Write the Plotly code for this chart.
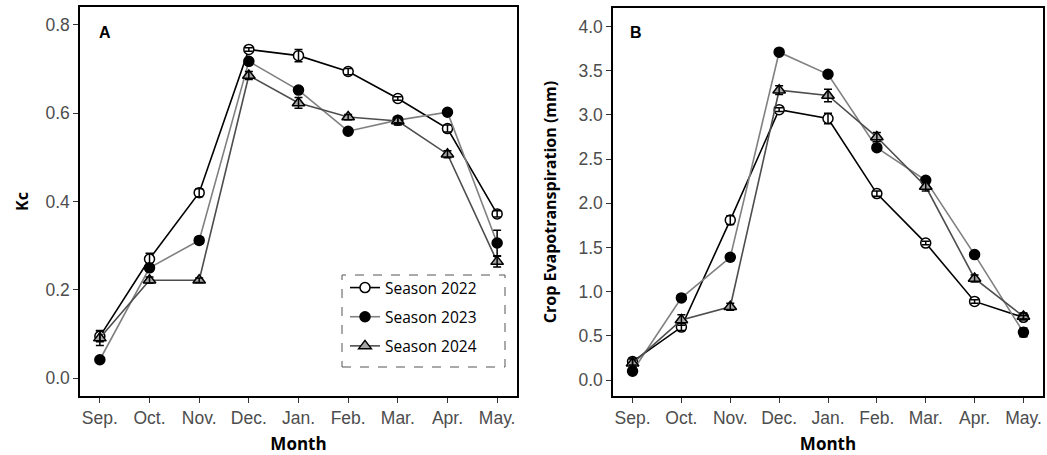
import plotly.graph_objects as go

# Month axis
months = ["Sep.", "Oct.", "Nov.", "Dec.", "Jan.", "Feb.", "Mar.", "Apr.", "May."]

# Crop coefficient (Kc) per season
kc_2022 = [0.095, 0.270, 0.420, 0.744, 0.730, 0.694, 0.633, 0.565, 0.372]
kc_2023 = [0.042, 0.250, 0.312, 0.717, 0.652, 0.559, 0.584, 0.602, 0.306]
kc_2024 = [0.091, 0.222, 0.222, 0.685, 0.623, 0.591, 0.582, 0.507, 0.264]
kc_2022_err = [0.012, 0.013, 0.009, 0.004, 0.014, 0.007, 0.004, 0.008, 0.007]
kc_2023_err = [0.003, 0.006, 0.008, 0.005, 0.005, 0.004, 0.006, 0.004, 0.029]
kc_2024_err = [0.017, 0.007, 0.005, 0.009, 0.012, 0.006, 0.009, 0.008, 0.012]

# Crop evapotranspiration (mm) per season
et_2022 = [0.21, 0.60, 1.81, 3.06, 2.96, 2.11, 1.55, 0.89, 0.71]
et_2023 = [0.10, 0.93, 1.39, 3.71, 3.46, 2.63, 2.26, 1.42, 0.54]
et_2024 = [0.19, 0.68, 0.83, 3.28, 3.22, 2.75, 2.19, 1.15, 0.72]
et_2022_err = [0.04, 0.04, 0.05, 0.02, 0.06, 0.03, 0.02, 0.02, 0.02]
et_2023_err = [0.03, 0.02, 0.04, 0.02, 0.02, 0.03, 0.02, 0.02, 0.05]
et_2024_err = [0.05, 0.06, 0.04, 0.05, 0.07, 0.05, 0.05, 0.04, 0.04]

seasons = ["Season 2022", "Season 2023", "Season 2024"]

styles = [
    dict(line="#000000", symbol="circle", fill="#ffffff", size=10),
    dict(line="#808080", symbol="circle", fill="#000000", size=10),
    dict(line="#4d4d4d", symbol="triangle-up", fill="#a6a6a6", size=11),
]

x_idx = list(range(len(months)))

fig = go.Figure()


def add_series(values, style, name, xaxis, yaxis, show_legend):
    fig.add_trace(go.Scatter(
        x=x_idx, y=values, name=name, mode="lines+markers",
        xaxis=xaxis, yaxis=yaxis, showlegend=show_legend,
        legendgroup=name,
        line=dict(color=style["line"], width=1.6),
        marker=dict(symbol=style["symbol"], size=style["size"], color=style["fill"],
                    line=dict(color="#000000", width=1.5)),
    ))


def add_errors(values, errors, xaxis, yaxis):
    # error bars drawn above the markers
    fig.add_trace(go.Scatter(
        x=x_idx, y=values, mode="markers", xaxis=xaxis, yaxis=yaxis,
        showlegend=False, hoverinfo="skip",
        marker=dict(size=1, color="rgba(0,0,0,0)"),
        error_y=dict(type="data", array=errors, visible=True, color="#000000",
                     thickness=1.5, width=4),
    ))


kc_sets = [(kc_2022, kc_2022_err), (kc_2023, kc_2023_err), (kc_2024, kc_2024_err)]
et_sets = [(et_2022, et_2022_err), (et_2023, et_2023_err), (et_2024, et_2024_err)]

for (vals, errs), st, nm in zip(kc_sets, styles, seasons):
    add_series(vals, st, nm, "x", "y", True)
for (vals, errs), st, nm in zip(et_sets, styles, seasons):
    add_series(vals, st, nm, "x2", "y2", False)
for vals, errs in kc_sets:
    add_errors(vals, errs, "x", "y")
for vals, errs in et_sets:
    add_errors(vals, errs, "x2", "y2")

W, H = 1047, 455


def px_x(p):
    return p / W


def px_y(p):
    return 1 - p / H


tick_font = dict(family="Liberation Sans, Arial, sans-serif", size=17.5, color="#4d4d4d")
title_font = dict(family="Open Sans, sans-serif", size=16, color="#000000")

axis_common = dict(
    showline=True, linecolor="#000000", linewidth=1.5, mirror=True,
    ticks="outside", ticklen=5, tickwidth=1.2, tickcolor="#333333",
    showgrid=False, zeroline=False, tickfont=tick_font,
)

xaxis_common = dict(
    axis_common, tickmode="array", tickvals=x_idx, ticktext=months,
    range=[-0.4, 8.4],
    title=dict(text="<b>Month</b>", font=dict(title_font, size=17), standoff=11),
)

fig.update_layout(
    width=W, height=H,
    margin=dict(l=0, r=0, t=0, b=0),
    paper_bgcolor="#ffffff", plot_bgcolor="#ffffff",
    xaxis=dict(xaxis_common, domain=[px_x(80), px_x(517)], anchor="y"),
    yaxis=dict(axis_common, domain=[px_y(396), px_y(7)], anchor="x",
               range=[-0.04, 0.84], tickvals=[0, 0.2, 0.4, 0.6, 0.8],
               ticktext=["0.0", "0.2", "0.4", "0.6", "0.8"],
               title=dict(text="<b>Kc</b>", font=title_font, standoff=13)),
    xaxis2=dict(xaxis_common, domain=[px_x(613), px_x(1043)], anchor="y2"),
    yaxis2=dict(axis_common, domain=[px_y(396), px_y(8)], anchor="x2",
                range=[-0.18, 4.21], tickvals=[0, 0.5, 1, 1.5, 2, 2.5, 3, 3.5, 4],
                ticktext=["0.0", "0.5", "1.0", "1.5", "2.0", "2.5", "3.0", "3.5", "4.0"],
                title=dict(text="<b>Crop Evapotranspiration (mm)</b>", font=title_font,
                           standoff=18)),
    legend=dict(
        x=px_x(345), y=px_y(271), xanchor="left", yanchor="top",
        bgcolor="rgba(0,0,0,0)", borderwidth=0,
        font=dict(family="Open Sans, sans-serif", size=15.5, color="#000000"),
        tracegroupgap=6, itemwidth=30,
    ),
    shapes=[dict(
        type="rect", xref="paper", yref="paper",
        x0=px_x(342), x1=px_x(505), y0=px_y(367), y1=px_y(275),
        line=dict(color="#555555", width=1, dash="dash"), fillcolor="rgba(0,0,0,0)",
    )],
    annotations=[
        dict(text="<b>A</b>", xref="paper", yref="paper", x=px_x(97), y=px_y(33),
             xanchor="left", yanchor="middle", showarrow=False,
             font=dict(family="Liberation Sans, Arial, sans-serif", size=16, color="#000000")),
        dict(text="<b>B</b>", xref="paper", yref="paper", x=px_x(628), y=px_y(33),
             xanchor="left", yanchor="middle", showarrow=False,
             font=dict(family="Liberation Sans, Arial, sans-serif", size=16, color="#000000")),
    ],
)

fig.write_html("out.html")
